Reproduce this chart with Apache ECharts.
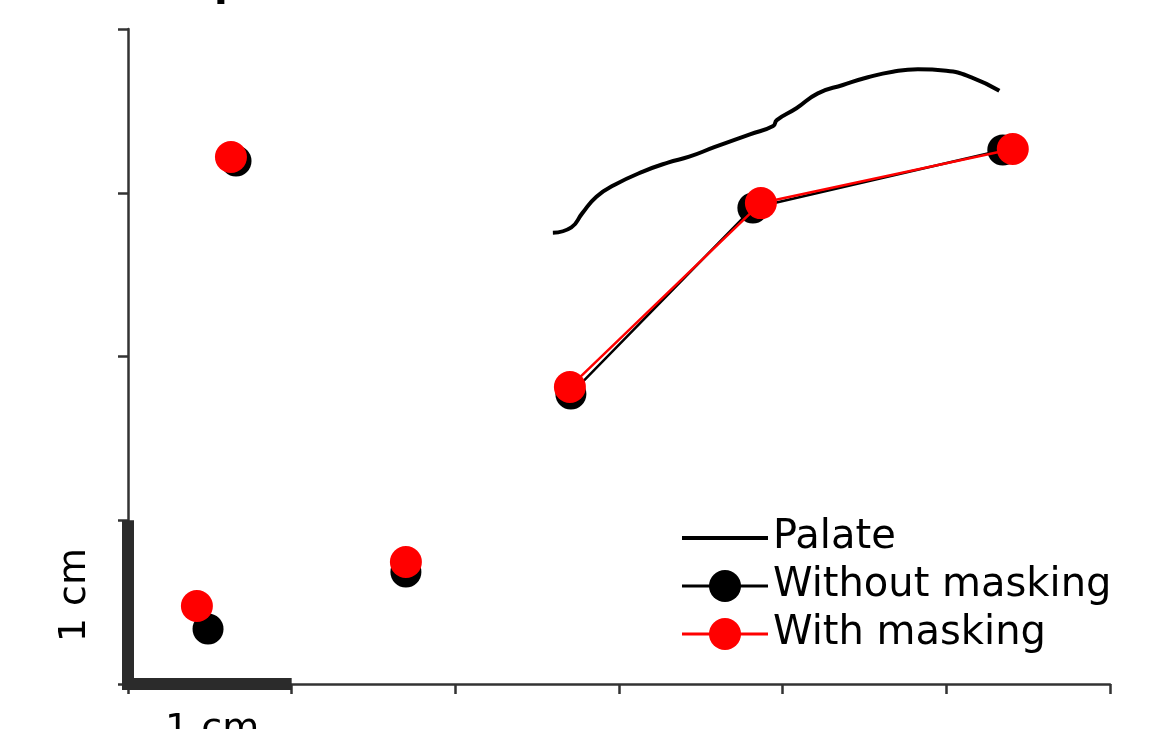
<!DOCTYPE html>
<html>
<head>
<meta charset="utf-8">
<script src="https://cdn.jsdelivr.net/npm/echarts@6/dist/echarts.min.js"></script>
<style>html,body{margin:0;padding:0;background:#fff;}#c{width:1162px;height:729px;}</style>
</head>
<body>
<div id="c"></div>
<script>
// Palate outline (cm)
const palateX = [2.596, 2.709, 2.775, 2.862, 2.971, 3.146, 3.299, 3.429, 3.582, 3.800, 3.942, 3.964, 4.084, 4.215, 4.368, 4.521, 4.673, 4.826, 5.000, 5.153, 5.324];
const palateY = [2.756, 2.789, 2.874, 2.976, 3.047, 3.129, 3.184, 3.220, 3.278, 3.357, 3.408, 3.444, 3.516, 3.607, 3.658, 3.705, 3.739, 3.754, 3.745, 3.705, 3.623];
// Points without masking
const withoutX = [0.489, 0.660, 1.698, 2.706, 3.818, 5.345];
const withoutY = [0.336, 3.194, 0.684, 1.771, 2.907, 3.261];
// Points with masking
const withX = [0.421, 0.629, 1.698, 2.700, 3.867, 5.406];
const withY = [0.476, 3.218, 0.745, 1.814, 2.937, 3.267];
// which points are joined to the previous point
const linked = [false, false, false, false, true, true];
// scale bar (1 cm each way)
const barX = [0, 0, 1];
const barY = [1, 0, 0];
const seriesNames = ['Palate', 'Without masking', 'With masking'];

function zip(xs, ys) { return xs.map((x, i) => [x, ys[i]]); }
function withBreaks(xs, ys) {
  const out = [];
  xs.forEach((x, i) => {
    if (i > 0 && !linked[i]) out.push(['-', '-']);
    out.push([x, ys[i]]);
  });
  return out;
}

const FONT = 'DejaVu Sans';
const chart = echarts.init(document.getElementById('c'));
chart.setOption({
  animation: false,
  backgroundColor: '#fff',
  grid: { left: 128, right: 52, top: 29, bottom: 45 },
  xAxis: {
    type: 'value', min: 0, max: 6, interval: 1,
    axisLine: { show: true, lineStyle: { color: '#333', width: 2.5 } },
    axisTick: { show: true, length: 10, lineStyle: { color: '#333', width: 2.5 } },
    axisLabel: { show: false }, splitLine: { show: false }
  },
  yAxis: {
    type: 'value', min: 0, max: 4, interval: 1,
    axisLine: { show: true, lineStyle: { color: '#333', width: 2.5 } },
    axisTick: { show: true, length: 10, lineStyle: { color: '#333', width: 2.5 } },
    axisLabel: { show: false }, splitLine: { show: false }
  },
  legend: {
    data: [
      { name: seriesNames[0], itemStyle: { color: 'rgba(0,0,0,0)', borderWidth: 0 }, lineStyle: { width: 4 } },
      { name: seriesNames[1], lineStyle: { width: 3 } },
      { name: seriesNames[2], lineStyle: { width: 3 } }
    ],
    orient: 'vertical', left: 680, top: 518, padding: 0,
    itemWidth: 86, itemHeight: 40, itemGap: 8,
    textStyle: { fontFamily: FONT, fontSize: 40, color: '#000' }
  },
  graphic: [
    { type: 'text', left: 56, top: 548, rotation: Math.PI / 2,
      style: { text: '1 cm', fontFamily: FONT, fontSize: 38, fill: '#000' } },
    { type: 'text', left: 165, top: 711,
      style: { text: '1 cm', fontFamily: FONT, fontSize: 38, fill: '#000' } },
    { type: 'text', left: 214, top: -35,
      style: { text: 'p', fontFamily: FONT, fontWeight: 'bold', fontSize: 40, fill: '#000' } }
  ],
  series: [
    { name: 'Palate', type: 'line', data: zip(palateX, palateY), symbol: 'none', smooth: true,
      lineStyle: { color: '#000', width: 4 }, itemStyle: { color: '#000' }, z: 2 },
    { name: 'Without masking', type: 'line', data: withBreaks(withoutX, withoutY), connectNulls: false,
      symbol: 'circle', symbolSize: 31, showAllSymbol: true,
      lineStyle: { color: '#000', width: 2.5 }, itemStyle: { color: '#000' }, z: 3 },
    { name: 'With masking', type: 'line', data: withBreaks(withX, withY), connectNulls: false,
      symbol: 'circle', symbolSize: 32, showAllSymbol: true,
      lineStyle: { color: '#ff0000', width: 2.5 }, itemStyle: { color: '#ff0000' }, z: 4 },
    { name: 'scale', type: 'line', data: zip(barX, barY), symbol: 'none', silent: true,
      lineStyle: { color: '#2b2b2b', width: 12, cap: 'butt', join: 'miter' }, z: 5 }
  ]
});
</script>
</body>
</html>
